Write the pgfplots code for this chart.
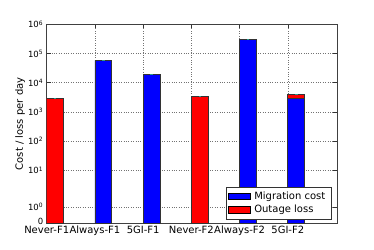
\documentclass[border=0pt]{standalone}
\usepackage{pgfplots}
\pgfplotsset{compat=1.18}
\usepackage{fontspec}
\setmainfont{DejaVu Sans}
\begin{document}
\begin{tikzpicture}
\path[use as bounding box] (0,0) rectangle (374pt,249pt);
\begin{axis}[
  at={(46.7pt,25.7pt)}, anchor=south west,
  scale only axis, width=290.3pt, height=199pt,
  xmin=0, xmax=6.02, ymin=0, ymax=1000000,
  y coord trafo/.code={\begingroup\pgfkeys{/pgf/fpu=true,/pgf/fpu/output format=fixed}\pgfmathparse{min(#1,2)/1.8+log10(max(#1,2)/2)}\pgfmathsmuggle\pgfmathresult\endgroup},
  xtick={0,1,2,3,4,5},
  xticklabels={Never-F1,Always-F1,5GI-F1,Never-F2,Always-F2,5GI-F2},
  ytick={0,1,10,100,1000,10000,100000,1000000},
  yticklabels={\raisebox{3pt}{0},{10\textsuperscript{0}},{10\textsuperscript{1}},{10\textsuperscript{2}},{10\textsuperscript{3}},{10\textsuperscript{4}},{10\textsuperscript{5}},{10\textsuperscript{6}}},
  minor tick num=0,
  x tick label style={font=\fontsize{10}{12}\selectfont, yshift=1pt},
  y tick label style={font=\fontsize{8.5}{10}\selectfont},
  tick align=inside, major tick length=4pt,
  tick style={black!80, line width=0.6pt},
  axis line style={black!75, line width=0.8pt},
  grid=major,
  major grid style={black!55, dotted, line width=0.5pt},
  ylabel={Cost / loss per day},
  ylabel style={at={(axis description cs:-0.092,0.5)}, anchor=center, font=\fontsize{10}{12}\selectfont},
  legend style={at={(axis description cs:1,0)}, anchor=south east, xshift=-5.3pt, yshift=4pt,
    draw=black!80, line width=0.7pt, font=\fontsize{10}{12}\selectfont,
    inner xsep=2.5pt, inner ysep=3.5pt, row sep=2.5pt, nodes={inner xsep=3.5pt, inner ysep=1pt}},
  legend cell align=left,
]
\addplot[ybar, bar width=0.35, bar shift=0, fill=red, draw=black!80, line width=0.7pt, forget plot]
  coordinates {(0.175,3000) (3.175,3500) (5.175,3900)};
\addplot[ybar, bar width=0.35, bar shift=0, fill=blue, draw=black!80, line width=0.7pt, forget plot]
  coordinates {(1.175,58000) (2.175,19400) (4.175,295000) (5.175,3000)};
\addplot[only marks, mark=-, mark size=1.3pt, color=cyan!50!green!80!black, line width=0.8pt, forget plot]
  coordinates {(0.175,3000) (1.175,58000) (2.175,19400) (3.175,3500) (4.175,295000) (5.175,3900)};
\addlegendimage{legend image code/.code={\draw[fill=blue,draw=black,line width=0.7pt] (0pt,-3.4pt) rectangle (21.7pt,3.4pt);}}
\addlegendentry{Migration cost}
\addlegendimage{legend image code/.code={\draw[fill=red,draw=black,line width=0.7pt] (0pt,-3.4pt) rectangle (21.7pt,3.4pt);}}
\addlegendentry{Outage loss}
\end{axis}
\end{tikzpicture}
\end{document}
